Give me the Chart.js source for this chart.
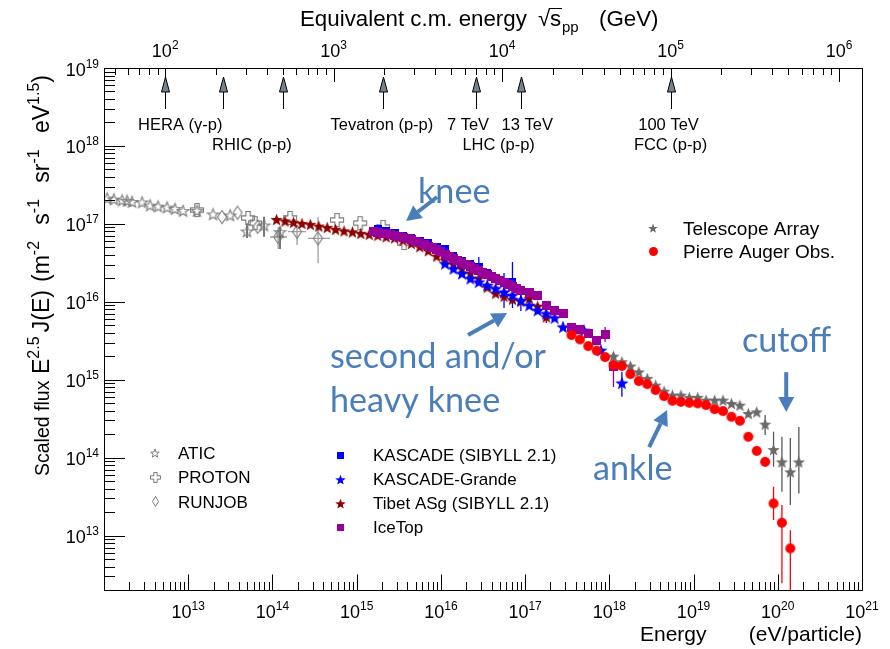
<!DOCTYPE html>
<html>
<head>
<meta charset="utf-8">
<script src="https://cdn.jsdelivr.net/npm/chart.js@4.4.1/dist/chart.umd.min.js"></script>
<style>
html,body{margin:0;padding:0;background:#ffffff;}
#c{display:block;}
</style>
</head>
<body>
<canvas id="c" width="890" height="649"></canvas>
<script>
// ===== DATA: energy in eV, scaled flux E^2.5 J(E) in m^-2 s^-1 sr^-1 eV^1.5 =====
const aticEnergy = [1.09e12,1.31e12,1.64e12,1.88e12,2.15e12,2.83e12,3.52e12,4.38e12,5.60e12,6.96e12,8.67e12,1.27e13,1.97e13,3.14e13,4.99e13,7.94e13,1.23e14];
const aticFlux   = [2.14e17,2.08e17,2.02e17,1.99e17,1.93e17,1.91e17,1.74e17,1.69e17,1.64e17,1.57e17,1.48e17,1.48e17,1.34e17,1.30e17,8.09e16,9.66e16,7.93e16];
const aticErrE  = [4.99e13,7.94e13,1.23e14];
const aticErrLo = [6.57e16,6.83e16,4.75e16];
const aticErrHi = [1.02e17,1.23e17,9.18e16];

const protonEnergy = [1.27e13,5.13e13,6.21e13,1.62e14,5.85e14,1.10e15,2.06e15,3.66e15];
const protonFlux   = [1.50e17,1.19e17,1.02e17,1.19e17,1.12e17,1.02e17,9.10e16,5.67e16];

const runjobEnergy = [2.52e13,3.85e13,6.66e13,1.17e14,1.96e14,3.48e14];
const runjobFlux   = [1.22e17,1.39e17,9.18e16,6.78e16,7.93e16,6.52e16];
const runjobErrE   = [1.17e14,1.96e14,3.48e14];
const runjobErrLo  = [4.75e16,5.35e16,3.11e16];
const runjobErrHi  = [9.10e16,9.66e16,1.23e17];
const runjobErrXLo = [9.35e13,1.53e14,2.65e14];
const runjobErrXHi = [1.49e14,2.51e14,4.83e14];

const tibetEnergy = [1.12e14,1.41e14,1.78e14,2.24e14,2.82e14,3.55e14,4.47e14,5.62e14,7.08e14,8.91e14,
                     1.12e15,1.41e15,1.78e15,2.24e15,2.82e15,3.55e15,4.47e15,5.62e15,7.08e15,8.91e15,
                     1.12e16,1.41e16,1.78e16,2.24e16,2.82e16,3.55e16,4.47e16,5.62e16,7.08e16,8.91e16,
                     1.12e17,1.41e17,1.78e17];
const tibetFlux   = [1.14e17,1.09e17,1.05e17,1.015e17,9.88e16,9.37e16,9.02e16,8.53e16,8.15e16,7.89e16,
                     7.57e16,7.36e16,7.14e16,6.83e16,6.61e16,6.19e16,5.62e16,5.11e16,4.54e16,3.86e16,
                     3.43e16,3.05e16,2.67e16,2.34e16,2.01e16,1.54e16,1.29e16,1.18e16,1.08e16,1.02e16,
                     1.11e16,8.81e15,6.42e15];
const tibetErrE  = [1.78e17];
const tibetErrLo = [5.33e15];
const tibetErrHi = [7.82e15];

const kascadeEnergy = [1.78e15,2.24e15,2.82e15,3.55e15,4.47e15,5.62e15,7.08e15,8.91e15,1.12e16,1.41e16,1.78e16,2.24e16,2.82e16,3.55e16,4.47e16,5.62e16,7.08e16];
const kascadeFlux   = [8.70e16,8.09e16,7.55e16,6.97e16,6.51e16,6.10e16,5.67e16,5.08e16,4.75e16,3.86e16,3.33e16,3.09e16,2.81e16,2.34e16,1.96e16,1.74e16,1.81e16];
const kascadeErrE  = [2.82e16,7.08e16];
const kascadeErrLo = [2.14e16,1.05e16];
const kascadeErrHi = [3.75e16,3.23e16];

const grandeEnergy = [1.12e16,1.41e16,1.78e16,2.24e16,2.82e16,3.55e16,4.47e16,5.62e16,7.08e16,8.91e16,1.12e17,1.41e17,1.78e17,2.24e17,2.82e17,5.01e17,7.94e17,1.41e18];
const grandeFlux   = [3.11e16,2.68e16,2.32e16,2.00e16,1.81e16,1.64e16,1.49e16,1.34e16,1.22e16,1.05e16,9.07e15,7.82e15,7.10e15,6.27e15,4.78e15,4.33e15,2.40e15,9.12e14];
const grandeErrE  = [5.62e16,7.08e16,8.91e16,1.41e18];
const grandeErrLo = [8.30e15,8.30e15,7.60e15,6.03e14];
const grandeErrHi = [2.34e16,1.74e16,1.46e16,1.26e15];

const icetopEnergy = [1.58e15,1.78e15,2.00e15,2.24e15,2.51e15,2.82e15,3.16e15,3.55e15,3.98e15,4.47e15,5.01e15,5.62e15,6.31e15,7.08e15,7.94e15,8.91e15,
                      1.00e16,1.12e16,1.26e16,1.41e16,1.58e16,1.78e16,2.00e16,2.24e16,2.51e16,2.82e16,3.16e16,3.55e16,3.98e16,4.47e16,5.01e16,5.62e16,6.31e16,7.08e16,7.94e16,8.91e16,
                      1.12e17,1.41e17,1.78e17,2.24e17,2.82e17,3.55e17,4.47e17,5.62e17,7.08e17,8.91e17,1.12e18];
const icetopFlux   = [8.09e16,7.85e16,7.62e16,7.51e16,7.40e16,7.18e16,6.97e16,6.77e16,6.57e16,6.29e16,6.01e16,5.75e16,5.51e16,5.19e16,4.96e16,4.68e16,
                      4.41e16,4.10e16,3.86e16,3.59e16,3.38e16,3.19e16,3.00e16,2.83e16,2.67e16,2.52e16,2.37e16,2.24e16,2.11e16,1.99e16,1.90e16,1.79e16,1.69e16,1.59e16,1.50e16,1.41e16,
                      1.33e16,1.22e16,9.07e15,7.82e15,7.16e15,4.73e15,4.42e15,3.96e15,3.22e15,3.85e15,1.46e15];
const icetopErrE  = [8.91e17,1.12e18];
const icetopErrLo = [3.04e15,8.04e14];
const icetopErrHi = [4.73e15,2.20e15];

const taEnergy = [1.12e18,1.41e18,1.78e18,2.24e18,2.82e18,3.55e18,4.47e18,5.62e18,7.08e18,8.91e18,1.12e19,1.41e19,1.78e19,2.24e19,2.82e19,3.55e19,4.47e19,5.62e19,7.08e19,8.91e19,1.12e20,1.41e20,1.78e20];
const taFlux   = [2.01e15,1.70e15,1.50e15,1.26e15,1.04e15,8.52e14,7.14e14,6.34e14,6.34e14,5.93e14,5.93e14,5.47e14,5.47e14,5.47e14,4.96e14,4.72e14,3.69e14,3.87e14,2.69e14,1.27e14,8.83e13,6.57e13,8.83e13];
const taErrE  = [7.08e19,8.91e19,1.12e20,1.41e20,1.78e20];
const taErrLo = [1.95e14,7.62e13,3.64e13,2.46e13,3.47e13];
const taErrHi = [3.51e14,2.14e14,1.85e14,1.78e14,2.48e14];

const augerEnergy = [3.55e17,4.47e17,5.62e17,7.08e17,8.91e17,1.12e18,1.41e18,1.78e18,2.24e18,2.82e18,3.55e18,4.47e18,5.62e18,7.08e18,8.91e18,1.12e19,1.41e19,1.78e19,2.24e19,2.82e19,3.55e19,4.47e19,5.62e19,7.08e19,8.91e19,1.12e20,1.41e20];
const augerFlux   = [3.74e15,3.29e15,2.70e15,2.36e15,1.95e15,1.54e15,1.50e15,1.18e15,9.59e14,8.78e14,7.36e14,6.16e14,5.36e14,5.20e14,5.05e14,4.96e14,4.72e14,4.19e14,3.95e14,3.34e14,2.97e14,1.85e14,1.22e14,8.83e13,2.58e13,1.46e13,6.83e12];
const augerErrE  = [7.08e19,8.91e19,1.12e20,1.41e20];
const augerErrLo = [7.62e13,1.58e13,2.45e12,1e11];
const augerErrHi = [1.02e14,4.22e13,2.46e13,1.17e13];

// axes / tick labels
const xTickExps   = [13,14,15,16,17,18,19,20,21];
const yTickExps   = [13,14,15,16,17,18,19];
const topTickExps = [2,3,4,5,6];
// accelerator arrows: sqrt(s) in GeV
const accelSqrtS = [100,220,500,1960,7000,13000,100000];
const accelLabels = [
  {t:'HERA (\u03b3-p)', a:[0], dx:15, row:0},
  {t:'RHIC (p-p)', a:[1,2], dx:-1, row:1},
  {t:'Tevatron (p-p)', a:[3], dx:-1, row:0},
  {t:'7 TeV', a:[4], dx:-8, row:0},
  {t:'13 TeV', a:[5], dx:6, row:0},
  {t:'LHC (p-p)', a:[4,5], dx:0, row:1},
  {t:'100 TeV', a:[6], dx:-2, row:0},
  {t:'FCC (p-p)', a:[6], dx:0, row:1}
];
const legendLeft  = ['ATIC','PROTON','RUNJOB'];
const legendMid   = ['KASCADE (SIBYLL 2.1)','KASCADE-Grande','Tibet ASg (SIBYLL 2.1)','IceTop'];
const legendRight = ['Telescope Array','Pierre Auger Obs.'];
const noteTexts = ['knee','second and/or','heavy knee','ankle','cutoff'];
// annotation arrows (data coords): [E, flux] from -> to
const noteArrows = [
  {from:[9.02e15,2.21e17], to:[3.86e15,1.09e17]},
  {from:[2.10e16,3.74e15], to:[6.11e16,7.16e15]},
  {from:[2.97e18,1.36e14], to:[4.85e18,4.07e14]},
  {from:[1.26e20,1.25e15], to:[1.26e20,3.84e14]}
];

// ===== constants =====
const X0 = 1e12, X1 = 1e21, Y0 = 2e12, Y1 = 1e19;
const MP = 0.938e9;
function sqrtsToE(gev){ const s = gev*1e9; return s*s/(2*MP); }
const FONT = '"Liberation Sans", Arial, sans-serif';
const NOTE_FONT = 'Lato, "Open Sans", sans-serif';
const BLUE = '#4a7ebb';
const C = {grey:'#7a7a7a', ta:'#6a6a6a', tibet:'#8b0000', blue:'#0000ff', ice:'#990099', auger:'#ff0000'};

// ===== marker canvases =====
function mk(w,h,fn){ const c=document.createElement('canvas'); c.width=w; c.height=h; const g=c.getContext('2d'); fn(g,w/2,h/2); return c; }
function starPath(g,cx,cy,R,r){ g.beginPath(); for(let i=0;i<10;i++){ const ang=-Math.PI/2+i*Math.PI/5; const rr=(i%2===0)?R:r; g.lineTo(cx+rr*Math.cos(ang), cy+rr*Math.sin(ang)); } g.closePath(); }
function filledStar(d,col){ return mk(d+2,d+2,(g,cx,cy)=>{ starPath(g,cx,cy+d*0.06,d/2,d/2*0.42); g.fillStyle=col; g.fill(); }); }
function openStar(d,col,lw){ return mk(d+3,d+3,(g,cx,cy)=>{ starPath(g,cx,cy+d*0.06,d/2,d/2*0.42); g.strokeStyle=col; g.lineWidth=lw; g.stroke(); }); }
function square(d,col){ return mk(d,d,(g)=>{ g.fillStyle=col; g.fillRect(0,0,d,d); }); }
function circle(d,col){ return mk(d+2,d+2,(g,cx,cy)=>{ g.beginPath(); g.arc(cx,cy,d/2,0,Math.PI*2); g.fillStyle=col; g.fill(); }); }
function openCross(d,col,lw){ const R=d/2, q=R/3; return mk(d+3,d+3,(g,cx,cy)=>{ const P=[[-q,-R],[q,-R],[q,-q],[R,-q],[R,q],[q,q],[q,R],[-q,R],[-q,q],[-R,q],[-R,-q],[-q,-q]]; g.beginPath(); P.forEach((p,i)=>{ if(i) g.lineTo(cx+p[0],cy+p[1]); else g.moveTo(cx+p[0],cy+p[1]); }); g.closePath(); g.strokeStyle=col; g.lineWidth=lw; g.stroke(); }); }
function openDiamond(w,h,col,lw){ return mk(w+3,h+3,(g,cx,cy)=>{ g.beginPath(); g.moveTo(cx,cy-h/2); g.lineTo(cx+w/2,cy); g.lineTo(cx,cy+h/2); g.lineTo(cx-w/2,cy); g.closePath(); g.strokeStyle=col; g.lineWidth=lw; g.stroke(); }); }

const M = {
  atic: openStar(12,C.grey,1.1), proton: openCross(13,C.grey,1.1), runjob: openDiamond(9,13,C.grey,1.1),
  tibet: filledStar(13,C.tibet), kascade: square(8,C.blue), grande: filledStar(14,C.blue),
  ice: square(9,C.ice), ta: filledStar(13,C.ta), auger: circle(10,C.auger)
};
const L = {
  atic: openStar(9,C.grey,1), proton: openCross(10,C.grey,1), runjob: openDiamond(6,10,C.grey,1),
  kascade: square(7,C.blue), grande: filledStar(11,C.blue), tibet: filledStar(11,C.tibet), ice: square(7,C.ice),
  ta: filledStar(10,C.ta), auger: circle(9,C.auger)
};

function pts(E,J){ return E.map((e,i)=>({x:e,y:J[i]})); }
function ds(label,E,J,style,err,errColor){ return {label, data:pts(E,J), pointStyle:style, pointRadius:5, showLine:false, errs:err, errColor}; }

const datasets = [
  ds('Pierre Auger Obs.', augerEnergy, augerFlux, M.auger, {e:augerErrE,lo:augerErrLo,hi:augerErrHi}, C.auger),
  ds('Telescope Array', taEnergy, taFlux, M.ta, {e:taErrE,lo:taErrLo,hi:taErrHi}, '#5a5a5a'),
  ds('IceTop', icetopEnergy, icetopFlux, M.ice, {e:icetopErrE,lo:icetopErrLo,hi:icetopErrHi}, C.ice),
  ds('KASCADE-Grande', grandeEnergy, grandeFlux, M.grande, {e:grandeErrE,lo:grandeErrLo,hi:grandeErrHi}, C.blue),
  ds('KASCADE (SIBYLL 2.1)', kascadeEnergy, kascadeFlux, M.kascade, {e:kascadeErrE,lo:kascadeErrLo,hi:kascadeErrHi}, C.blue),
  ds('Tibet ASg (SIBYLL 2.1)', tibetEnergy, tibetFlux, M.tibet, {e:tibetErrE,lo:tibetErrLo,hi:tibetErrHi}, C.tibet),
  ds('RUNJOB', runjobEnergy, runjobFlux, M.runjob, {e:runjobErrE,lo:runjobErrLo,hi:runjobErrHi,xlo:runjobErrXLo,xhi:runjobErrXHi}, '#a0a0a0'),
  ds('PROTON', protonEnergy, protonFlux, M.proton, null, C.grey),
  ds('ATIC', aticEnergy, aticFlux, M.atic, {e:aticErrE,lo:aticErrLo,hi:aticErrHi}, '#333333')
];

// ===== text helpers =====
function f(s){ return s+'px '+FONT; }
function runsWidth(ctx,runs){ let w=0; for(const r of runs){ ctx.font=f(r.s); w+=ctx.measureText(r.t).width; } return w; }
function drawRuns(ctx,runs,x,y){ for(const r of runs){ ctx.font=f(r.s); ctx.fillText(r.t,x,y+(r.dy||0)); x+=ctx.measureText(r.t).width; } return x; }
function fitGroups(ctx,groups,x0,x1,y){
  const ws=groups.map(g=>runsWidth(ctx,g)); const tot=ws.reduce((s,v)=>s+v,0);
  const gap=(x1-x0-tot)/Math.max(1,groups.length-1); let x=x0;
  groups.forEach((g,i)=>{ drawRuns(ctx,g,x,y); x+=ws[i]+gap; });
}
function powRuns(e){ return [{t:'10',s:18},{t:String(e),s:12,dy:-8}]; }

function blueArrow(ctx,x1,y1,x2,y2){
  const ang=Math.atan2(y2-y1,x2-x1), hl=15, hw=8;
  const bx=x2-hl*Math.cos(ang), by=y2-hl*Math.sin(ang);
  ctx.strokeStyle=BLUE; ctx.fillStyle=BLUE; ctx.lineWidth=4;
  ctx.beginPath(); ctx.moveTo(x1,y1); ctx.lineTo(bx,by); ctx.stroke();
  ctx.beginPath(); ctx.moveTo(x2,y2);
  ctx.lineTo(bx+hw*Math.sin(ang), by-hw*Math.cos(ang));
  ctx.lineTo(bx-hw*Math.sin(ang), by+hw*Math.cos(ang));
  ctx.closePath(); ctx.fill();
}

const decor = {
  id:'decor',
  beforeDatasetsDraw(chart){
    const ctx=chart.ctx, xs=chart.scales.x, ys=chart.scales.y, a=chart.chartArea;
    ctx.save();
    ctx.beginPath(); ctx.rect(a.left,a.top,a.right-a.left,a.bottom-a.top); ctx.clip();
    for(const d of chart.data.datasets){
      const er=d.errs; if(!er) continue;
      ctx.strokeStyle=d.errColor; ctx.lineWidth=1.3;
      ctx.beginPath();
      er.e.forEach((e,i)=>{
        const x=xs.getPixelForValue(e);
        ctx.moveTo(x,ys.getPixelForValue(er.lo[i])); ctx.lineTo(x,ys.getPixelForValue(er.hi[i]));
        if(er.xlo){ const j=d.data.find(p=>p.x===e); const y=ys.getPixelForValue(j?j.y:er.lo[i]);
          ctx.moveTo(xs.getPixelForValue(er.xlo[i]),y); ctx.lineTo(xs.getPixelForValue(er.xhi[i]),y); }
      });
      ctx.stroke();
    }
    ctx.restore();
  },
  afterDatasetsDraw(chart){
    const ctx=chart.ctx, xs=chart.scales.x, ys=chart.scales.y, a=chart.chartArea;
    const L0=Math.round(a.left), R0=Math.round(a.right), T0=Math.round(a.top), B0=Math.round(a.bottom);
    ctx.save();
    ctx.strokeStyle='#000'; ctx.fillStyle='#000'; ctx.lineWidth=1;
    ctx.strokeRect(L0+0.5,T0+0.5,R0-L0,B0-T0);
    ctx.beginPath();
    for(let n=12;n<=21;n++) for(let m=1;m<=9;m++){ const v=m*Math.pow(10,n); if(v<X0*0.999||v>X1*1.001) continue;
      const x=Math.round(xs.getPixelForValue(v))+0.5, len=(m===1)?15.5:8; ctx.moveTo(x,B0); ctx.lineTo(x,B0-len); }
    for(let n=12;n<=19;n++) for(let m=1;m<=9;m++){ const v=m*Math.pow(10,n); if(v<Y0*0.999||v>Y1*1.001) continue;
      const y=Math.round(ys.getPixelForValue(v))+0.5, len=(m===1)?21:11; ctx.moveTo(L0,y); ctx.lineTo(L0+len,y); }
    for(let n=1;n<=6;n++) for(let m=1;m<=9;m++){ const E=sqrtsToE(m*Math.pow(10,n)); if(E<X0||E>X1) continue;
      const x=Math.round(xs.getPixelForValue(E))+0.5, len=(m===1)?14:7; ctx.moveTo(x,T0); ctx.lineTo(x,T0+len); }
    ctx.stroke();
    ctx.textBaseline='alphabetic'; ctx.textAlign='left';
    for(const e of xTickExps){ const x=xs.getPixelForValue(Math.pow(10,e)); const r=powRuns(e); drawRuns(ctx,r,x-runsWidth(ctx,r)/2,618); }
    for(const e of yTickExps){ const y=ys.getPixelForValue(Math.pow(10,e)); const r=powRuns(e); drawRuns(ctx,r,99-runsWidth(ctx,r),y+7.5); }
    for(const e of topTickExps){ const x=xs.getPixelForValue(sqrtsToE(Math.pow(10,e))); const r=powRuns(e); drawRuns(ctx,r,x-runsWidth(ctx,r)/2,57); }
    // top title
    ctx.font=f(22.3); ctx.fillText('Equivalent c.m. energy',300,26);
    ctx.fillText('\u221a',538,26); ctx.fillText('s',550,26);
    ctx.beginPath(); ctx.moveTo(549,8.5); ctx.lineTo(562,8.5); ctx.stroke();
    ctx.font=f(15); ctx.fillText('pp',562,32);
    ctx.font=f(22.3); ctx.fillText('(GeV)',599,26);
    // bottom title
    ctx.font=f(21); ctx.fillText('Energy',640,641);
    ctx.textAlign='right'; ctx.fillText('(eV/particle)',R0,641); ctx.textAlign='left';
    // y title (rotated)
    ctx.save(); ctx.translate(49,476); ctx.rotate(-Math.PI/2);
    drawRuns(ctx,[{t:'Scaled flux',s:19.5}],0,0);
    fitGroups(ctx,[[{t:'E',s:23},{t:'2.5',s:16,dy:-10}],[{t:'J(E)',s:23}]],102,186,0);
    fitGroups(ctx,[[{t:'(m',s:23},{t:'-2',s:16,dy:-10}],[{t:'s',s:23},{t:'-1',s:16,dy:-10}],[{t:'sr',s:23},{t:'-1',s:16,dy:-10}],[{t:'eV',s:23},{t:'1.5',s:16,dy:-10},{t:')',s:23}]],194,401,0);
    ctx.restore();
    // accelerator arrows
    const ax = accelSqrtS.map(g=>xs.getPixelForValue(sqrtsToE(g)));
    for(const x0 of ax){ const x=Math.round(x0)+0.5;
      ctx.strokeStyle='#000'; ctx.lineWidth=1;
      ctx.beginPath(); ctx.moveTo(x,109); ctx.lineTo(x,90); ctx.stroke();
      ctx.beginPath(); ctx.moveTo(x,77); ctx.lineTo(x+4,92); ctx.lineTo(x-4,92); ctx.closePath();
      ctx.fillStyle='#75828f'; ctx.fill(); ctx.stroke(); }
    ctx.fillStyle='#000'; ctx.font=f(16.5); ctx.textAlign='center';
    for(const lb of accelLabels){ const cx=lb.a.reduce((s,i)=>s+ax[i],0)/lb.a.length+lb.dx; ctx.fillText(lb.t,cx,lb.row?150:130); }
    ctx.textAlign='left';
    // legends
    const drawM=(img,x,y)=>ctx.drawImage(img,Math.round(x-img.width/2),Math.round(y-img.height/2));
    ctx.font=f(17); ctx.fillStyle='#000';
    const lm=[L.atic,L.proton,L.runjob];
    legendLeft.forEach((t,i)=>{ const y=453+i*24.3; drawM(lm[i],155,y); ctx.fillText(t,178,y+6); });
    const mm=[L.kascade,L.grande,L.tibet,L.ice];
    legendMid.forEach((t,i)=>{ const y=455+i*24; drawM(mm[i],340,y); ctx.fillText(t,373,y+6); });
    ctx.font=f(19);
    const rm=[L.ta,L.auger];
    legendRight.forEach((t,i)=>{ const y=228+i*23.7; drawM(rm[i],653,y); ctx.fillText(t,683,y+6.5); });
    // blue annotations
    for(const ar of noteArrows){ blueArrow(ctx, xs.getPixelForValue(ar.from[0]), ys.getPixelForValue(ar.from[1]), xs.getPixelForValue(ar.to[0]), ys.getPixelForValue(ar.to[1])); }
    ctx.font='100px '+NOTE_FONT; const ref=ctx.measureText(noteTexts[1]).width; const ns=100*216/ref;
    ctx.font=ns+'px '+NOTE_FONT; ctx.fillStyle=BLUE;
    const notePos=[[418,203],[330,368],[330,412],[593,480],[742,352]];
    noteTexts.forEach((t,i)=>ctx.fillText(t,notePos[i][0],notePos[i][1]));
    ctx.restore();
  }
};

new Chart(document.getElementById('c').getContext('2d'), {
  type:'scatter',
  data:{datasets},
  options:{
    responsive:false, animation:false, devicePixelRatio:1, events:[],
    layout:{padding:{left:104,right:28,top:68,bottom:59}},
    plugins:{legend:{display:false}, tooltip:{enabled:false}},
    scales:{
      x:{type:'logarithmic', min:X0, max:X1, display:false},
      y:{type:'logarithmic', min:Y0, max:Y1, display:false}
    }
  },
  plugins:[decor]
});
</script>
</body>
</html>
